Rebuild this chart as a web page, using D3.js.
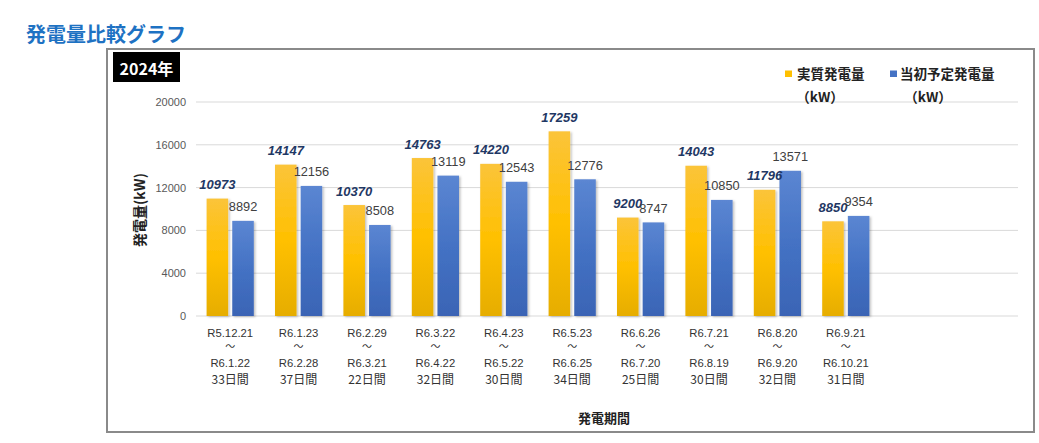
<!DOCTYPE html>
<html><head><meta charset="utf-8">
<script src="https://cdn.jsdelivr.net/npm/d3@7"></script>
<style>
body{margin:0;background:#fff;}
svg{display:block;}
</style></head>
<body>
<svg id="c" width="1039" height="443"></svg>
<script>
const categories = ["R5.12.21","R6.1.23","R6.2.29","R6.3.22","R6.4.23","R6.5.23","R6.6.26","R6.7.21","R6.8.20","R6.9.21"];
const periodEnd = ["R6.1.22","R6.2.28","R6.3.21","R6.4.22","R6.5.22","R6.6.25","R6.7.20","R6.8.19","R6.9.20","R6.10.21"];
const periodDays = ["33日間","37日間","22日間","32日間","30日間","34日間","25日間","30日間","32日間","31日間"];
const actual = [10973,14147,10370,14763,14220,17259,9200,14043,11796,8850];
const planned = [8892,12156,8508,13119,12543,12776,8747,10850,13571,9354];
const yTicks = [0,4000,8000,12000,16000,20000];
const seriesNames = ["実質発電量","当初予定発電量"];

const svg = d3.select("#c");
const jp = "'Noto Sans CJK JP', sans-serif";
const num = "'Liberation Sans', 'Noto Sans CJK JP', sans-serif";

const defs = svg.append("defs");
const gy = defs.append("linearGradient").attr("id","gy").attr("x1",0).attr("y1",0).attr("x2",0).attr("y2",1);
gy.append("stop").attr("offset","0%").attr("stop-color","#fbc43a");
gy.append("stop").attr("offset","50%").attr("stop-color","#ffc000");
gy.append("stop").attr("offset","100%").attr("stop-color","#e6ad00");
const gb = defs.append("linearGradient").attr("id","gb").attr("x1",0).attr("y1",0).attr("x2",0).attr("y2",1);
gb.append("stop").attr("offset","0%").attr("stop-color","#5b86d2");
gb.append("stop").attr("offset","50%").attr("stop-color","#4472c4");
gb.append("stop").attr("offset","100%").attr("stop-color","#3a64b5");
const sh = defs.append("filter").attr("id","sh").attr("x","-20%").attr("y","-10%").attr("width","150%").attr("height","120%");
sh.append("feDropShadow").attr("dx",1.5).attr("dy",1).attr("stdDeviation",1.2).attr("flood-color","#000").attr("flood-opacity",0.25);

// Title
svg.append("text").attr("x",26).attr("y",42).attr("font-family",jp).attr("font-weight","bold")
  .attr("font-size",20).attr("fill","#1e72c3").text("発電量比較グラフ");

// Frame
svg.append("rect").attr("x",107).attr("y",49).attr("width",927).attr("height",383)
  .attr("fill","#fff").attr("stroke","#8a8a8a").attr("stroke-width",2);

// 2024 badge
svg.append("rect").attr("x",113).attr("y",52).attr("width",67).attr("height",30).attr("fill","#000");
svg.append("text").attr("x",146.5).attr("y",74.5).attr("text-anchor","middle").attr("font-family",jp)
  .attr("font-weight","bold").attr("font-size",16).attr("fill","#fff").text("2024年");

// Scales
const y = d3.scaleLinear().domain([0,20000]).range([316,102]);
const x0 = d3.scaleBand().domain(categories).range([196,880]).paddingInner(0.31).paddingOuter(0.155);
const x1 = d3.scaleBand().domain([0,1]).range([0,x0.bandwidth()]).paddingInner(0.16);
const gridEnd = 1018;

// Grid
svg.append("g").selectAll("line").data(yTicks).join("line")
  .attr("x1",196).attr("x2",gridEnd).attr("y1",d=>y(d)).attr("y2",d=>y(d))
  .attr("stroke","#d9d9d9").attr("stroke-width",1);

// Y axis labels
const yAxis = d3.axisLeft(y).tickValues(yTicks).tickSize(0).tickPadding(0).tickFormat(d3.format("d"));
const ya = svg.append("g").attr("transform","translate(186,0)").call(yAxis);
ya.select(".domain").remove();
ya.selectAll("text").attr("font-family",num).attr("font-size",11).attr("fill","#595959");

// Y title
svg.append("text").attr("transform","translate(145,210) rotate(-90)").attr("text-anchor","middle")
  .attr("font-family",jp).attr("font-weight","bold").attr("font-size",14).attr("fill","#222").text("発電量(kW)");

// Bars
const groups = svg.append("g").selectAll("g").data(categories).join("g")
  .attr("transform",d=>`translate(${x0(d)},0)`);
groups.append("rect").attr("x",x1(0)).attr("width",x1.bandwidth())
  .attr("y",(d,i)=>y(actual[i])).attr("height",(d,i)=>y(0)-y(actual[i]))
  .attr("fill","url(#gy)").attr("filter","url(#sh)");
groups.append("rect").attr("x",x1(1)).attr("width",x1.bandwidth())
  .attr("y",(d,i)=>y(planned[i])).attr("height",(d,i)=>y(0)-y(planned[i]))
  .attr("fill","url(#gb)").attr("filter","url(#sh)");

// Value labels
groups.append("text").attr("x",x1(0)+x1.bandwidth()/2).attr("y",(d,i)=>y(actual[i])-9.5)
  .attr("text-anchor","middle").attr("font-family",num).attr("font-style","italic").attr("font-weight","bold")
  .attr("font-size",13).attr("fill","#1f3864").text((d,i)=>actual[i]);
groups.append("text").attr("x",x1(1)+x1.bandwidth()/2).attr("y",(d,i)=>y(planned[i])-9.5)
  .attr("text-anchor","middle").attr("font-family",num)
  .attr("font-size",12.8).attr("fill","#404040").text((d,i)=>planned[i]);

// X labels
const xl = svg.append("g").selectAll("text").data(categories).join("text")
  .attr("text-anchor","middle").attr("font-family",num).attr("font-size",11.3).attr("fill","#333")
  .attr("transform",d=>`translate(${x0(d)+x0.bandwidth()/2},0)`);
xl.append("tspan").attr("x",0).attr("y",337).text(d=>d);
xl.append("tspan").attr("x",0).attr("y",350).text("～").attr("font-family",jp).attr("font-size",10);
xl.append("tspan").attr("x",0).attr("y",367).text((d,i)=>periodEnd[i]);
xl.append("tspan").attr("x",0).attr("y",384).attr("font-family",jp).attr("font-size",12).text((d,i)=>periodDays[i]);

// X title
svg.append("text").attr("x",604).attr("y",423).attr("text-anchor","middle").attr("font-family",jp)
  .attr("font-weight","bold").attr("font-size",13).attr("fill","#222").text("発電期間");

// Legend
const legend = [{c:"#ffc000",x:785,tx:797},{c:"#4472c4",x:890,tx:900}];
legend.forEach((l,i)=>{
  svg.append("rect").attr("x",l.x).attr("y",70.5).attr("width",7).attr("height",6.5).attr("fill",l.c);
  svg.append("text").attr("x",l.tx).attr("y",79).attr("font-family",jp).attr("font-weight","bold")
    .attr("font-size",13.5).attr("fill","#222").text(seriesNames[i]);
  svg.append("text").attr("x",l.tx+(i===0?23:28)).attr("y",101.5).attr("text-anchor","middle").attr("font-family",jp).attr("font-weight","bold")
    .attr("font-size",13.5).attr("fill","#222").text("（kW）");
});
</script>
</body></html>
